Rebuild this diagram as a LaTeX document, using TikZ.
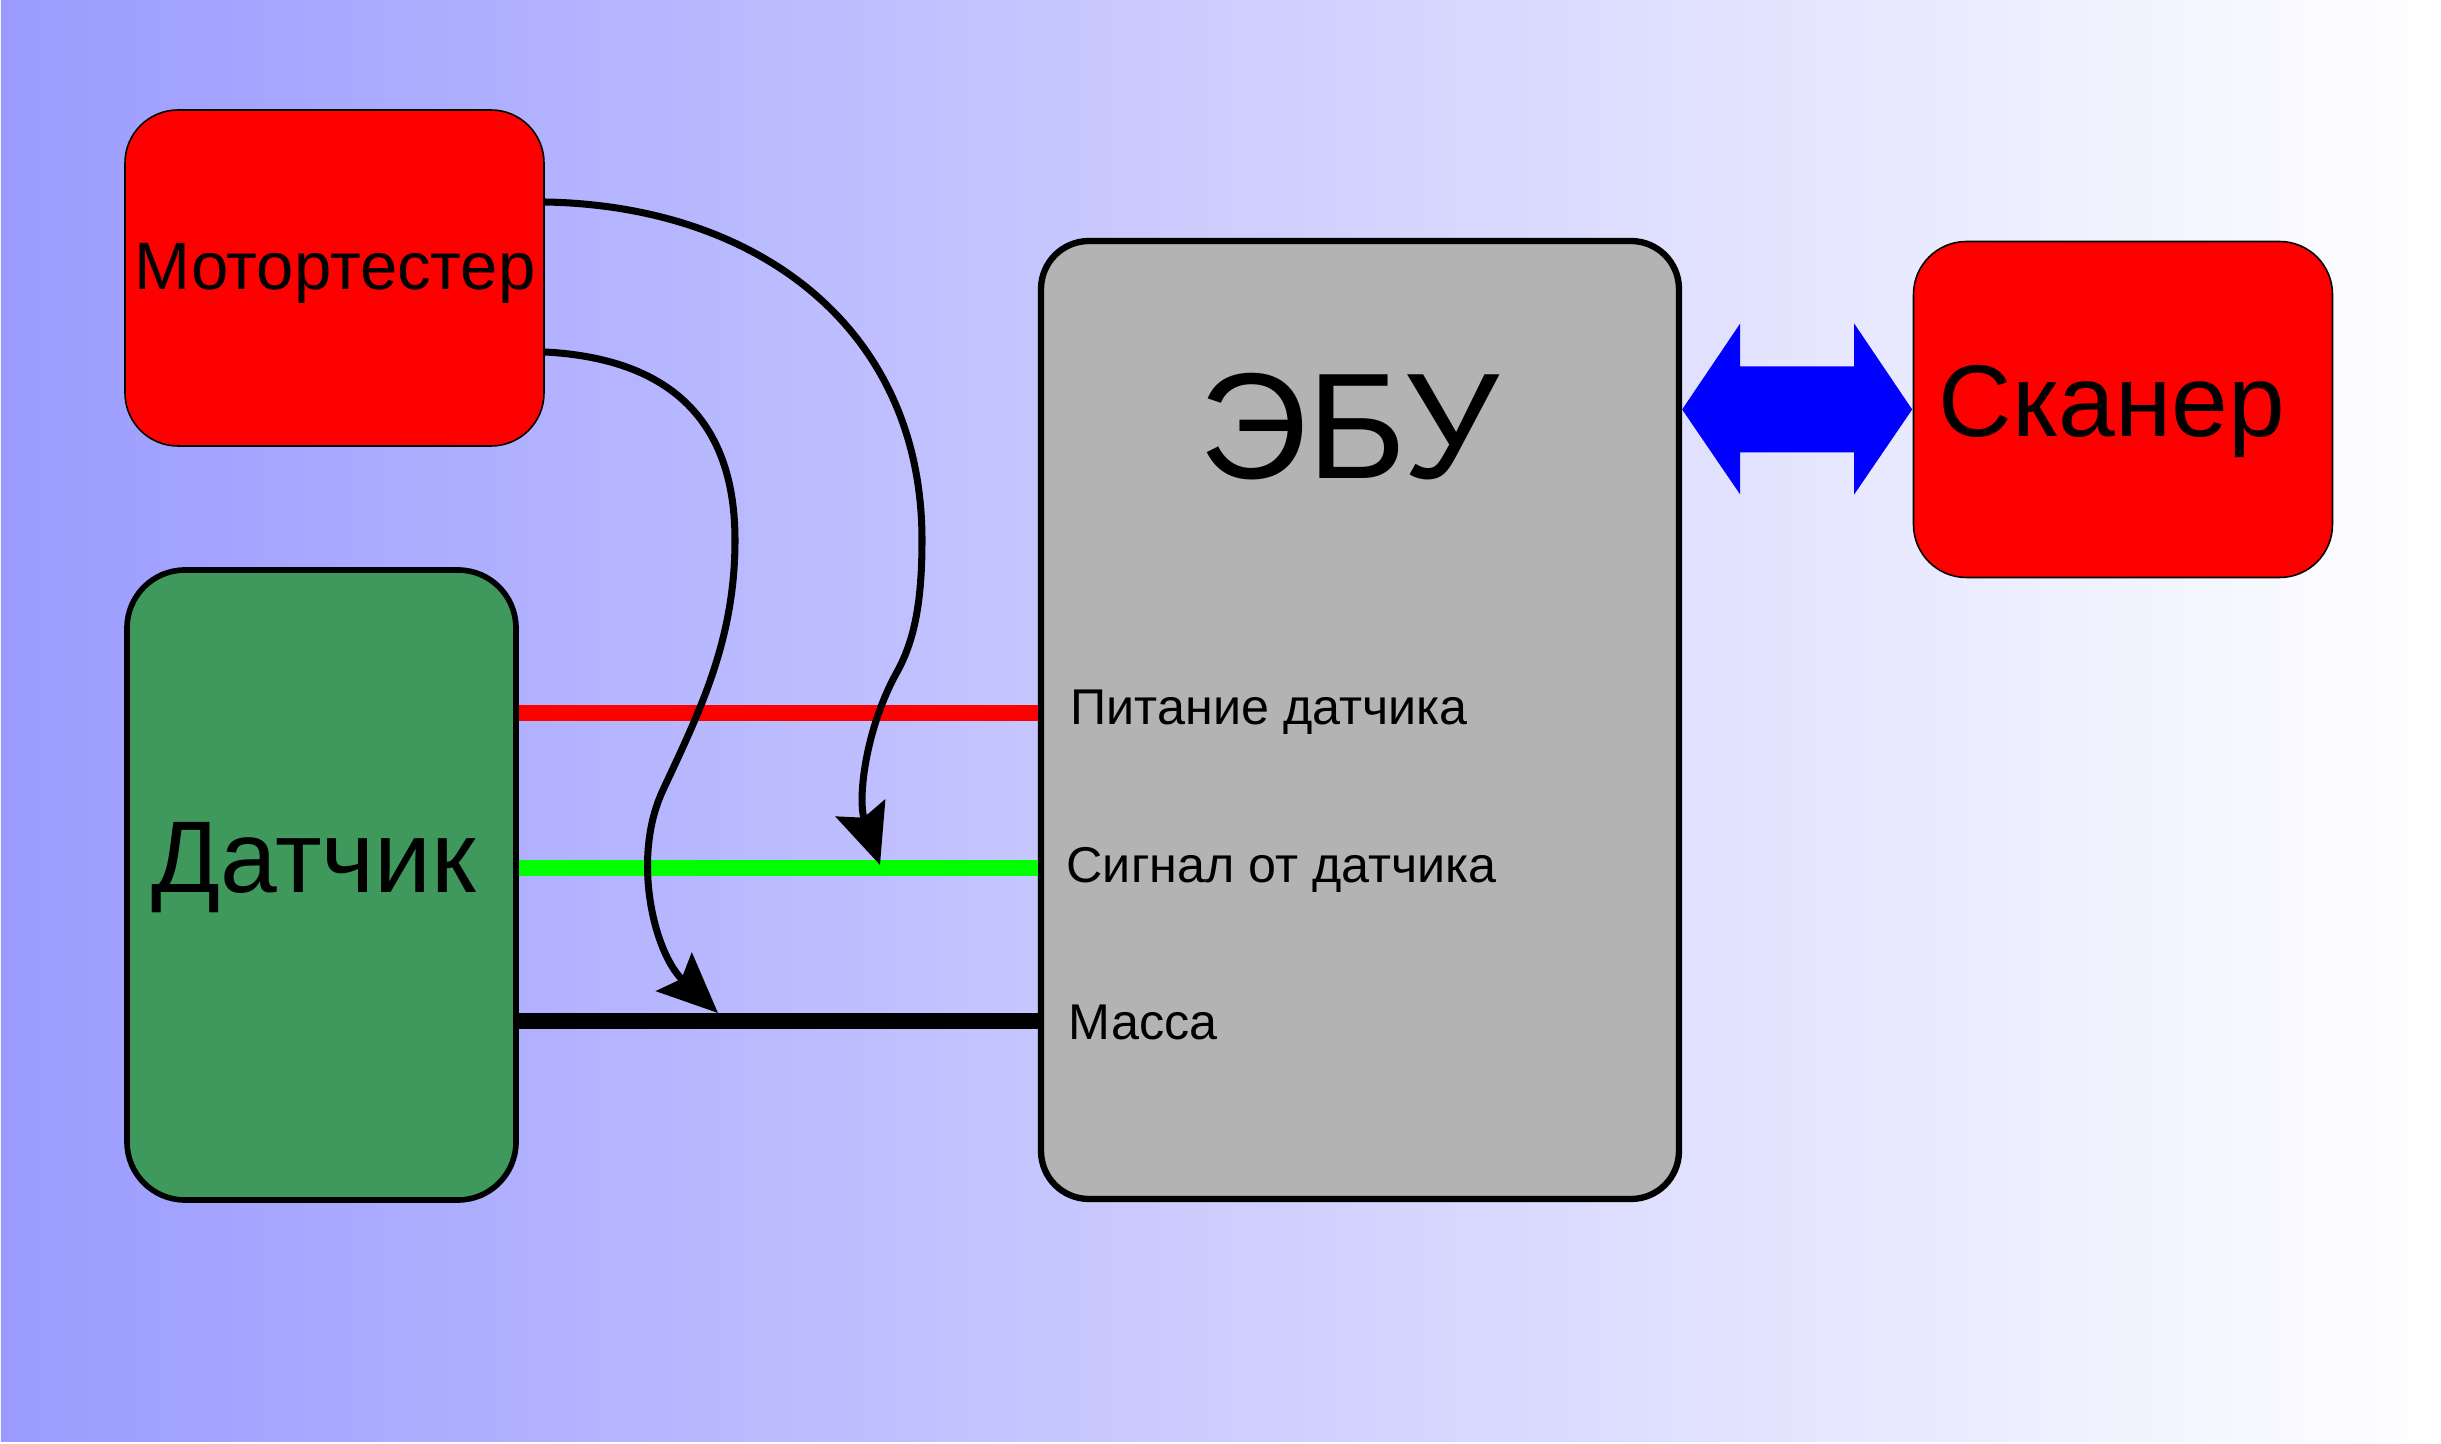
\documentclass[tikz,border=0pt]{standalone}
\usepackage{fontspec}
\setmainfont{Liberation Sans}
\usetikzlibrary{arrows.meta,calc}
\definecolor{bgleft}{RGB}{155,155,255}
\definecolor{sensorgreen}{RGB}{64,153,92}
\definecolor{ecugrey}{RGB}{179,179,179}
\tikzstyle{none}=[inner sep=0pt]
\tikzstyle{redbox}=[draw=black, fill=red, line width=0.45pt, rounded corners=0.53cm, minimum width=4.19cm, minimum height=3.36cm]
\tikzstyle{greenbox}=[draw=black, fill=sensorgreen, line width=1.6pt, rounded corners=0.58cm, minimum width=3.89cm, minimum height=6.30cm]
\tikzstyle{greybox}=[draw=black, fill=ecugrey, line width=1.8pt, rounded corners=0.48cm, minimum width=6.38cm, minimum height=9.58cm]
\tikzstyle{wire}=[line width=4.5pt]
\tikzstyle{probe}=[line width=2pt, -{Stealth[length=0.6cm, width=0.52cm, inset=0.1cm]}]
\tikzstyle{pinlabel}=[font=\fontsize{14.3}{17}\selectfont, anchor=base west, inner sep=0pt]
\tikzstyle{boxtext}=[inner sep=0pt, anchor=base]

\begin{document}
\begin{tikzpicture}
	\useasboundingbox (0, 0) rectangle (24.41, -14.44);
	\shade [left color=bgleft, right color=white] (0.01, -0.01) rectangle (24.38, -14.41);

	% blocks
	\node [style=redbox] (tester) at (3.345, -2.78) {};
	\node [style=greenbox] (sensor) at (3.215, -8.85) {};
	\node [style=greybox] (ecu) at (13.60, -7.20) {};
	\node [style=redbox] (scanner) at (21.23, -4.095) {};

	\node [style=boxtext, font=\fontsize{19.1}{23}\selectfont] (testertxt) at (3.35, -2.90) {Мотортестер};
	\node [style=boxtext, font=\fontsize{29}{35}\selectfont] (sensortxt) at (3.14, -8.93) {Датчик};
	\node [style=boxtext, font=\fontsize{42.9}{51}\selectfont] (ecutxt) at (13.49, -4.79) {ЭБУ};
	\node [style=boxtext, font=\fontsize{29}{35}\selectfont] (scannertxt) at (21.12, -4.37) {Сканер};

	\node [style=pinlabel] (supply) at (10.70, -7.25) {Питание датчика};
	\node [style=pinlabel] (signal) at (10.66, -8.83) {Сигнал от датчика};
	\node [style=pinlabel] (ground) at (10.68, -10.40) {Масса};

	% wires sensor -> ecu
	\node [style=none] (w1) at (0, -7.13) {};
	\node [style=none] (w2) at (0, -8.68) {};
	\node [style=none] (w3) at (0, -10.21) {};
	\draw [style=wire, red] (sensor.east |- w1.center) to (ecu.west |- w1.center);
	\draw [style=wire, green] (sensor.east |- w2.center) to (ecu.west |- w2.center);
	\draw [style=wire, black] (sensor.east |- w3.center) to (ecu.west |- w3.center);

	% tester probes
	\node [style=none] (a0) at (5.45, -2.02) {};
	\node [style=none] (a1) at (9.22, -5.40) {};
	\node [style=none] (a2) at (8.97, -6.72) {};
	\node [style=none] (a3) at (8.80, -8.65) {};
	\node [style=none] (b0) at (5.45, -3.52) {};
	\node [style=none] (b1) at (7.35, -5.40) {};
	\node [style=none] (b2) at (6.63, -7.90) {};
	\node [style=none] (b3) at (7.18, -10.13) {};
	\draw [style=probe] (a0.center) to [out=-1, in=90, out distance=2.15cm, in distance=2.1cm] (a1.center)
		to [out=-90, in=61, out distance=0.6cm, in distance=0.37cm] (a2.center)
		to [out=-119, in=109, out distance=0.66cm, in distance=0.69cm] (a3.center);
	\draw [style=probe] (b0.center) to [out=-3, in=90, out distance=1.35cm, in distance=1.1cm] (b1.center)
		to [out=-90, in=65, out distance=1.0cm, in distance=0.88cm] (b2.center)
		to [out=-115, in=137, out distance=0.77cm, in distance=0.86cm] (b3.center);

	% ecu <-> scanner
	\node [style=none] (bus) at (ecu.east |- scanner.west) {};
	\fill [blue] (bus.center) -- ++(0.58, 0.86) -- ++(0, -0.43) -- ++(1.14, 0) -- ++(0, 0.43) -- ++(0.58, -0.86)
		-- ++(-0.58, -0.85) -- ++(0, 0.42) -- ++(-1.14, 0) -- ++(0, -0.42) -- cycle;
\end{tikzpicture}
\end{document}
